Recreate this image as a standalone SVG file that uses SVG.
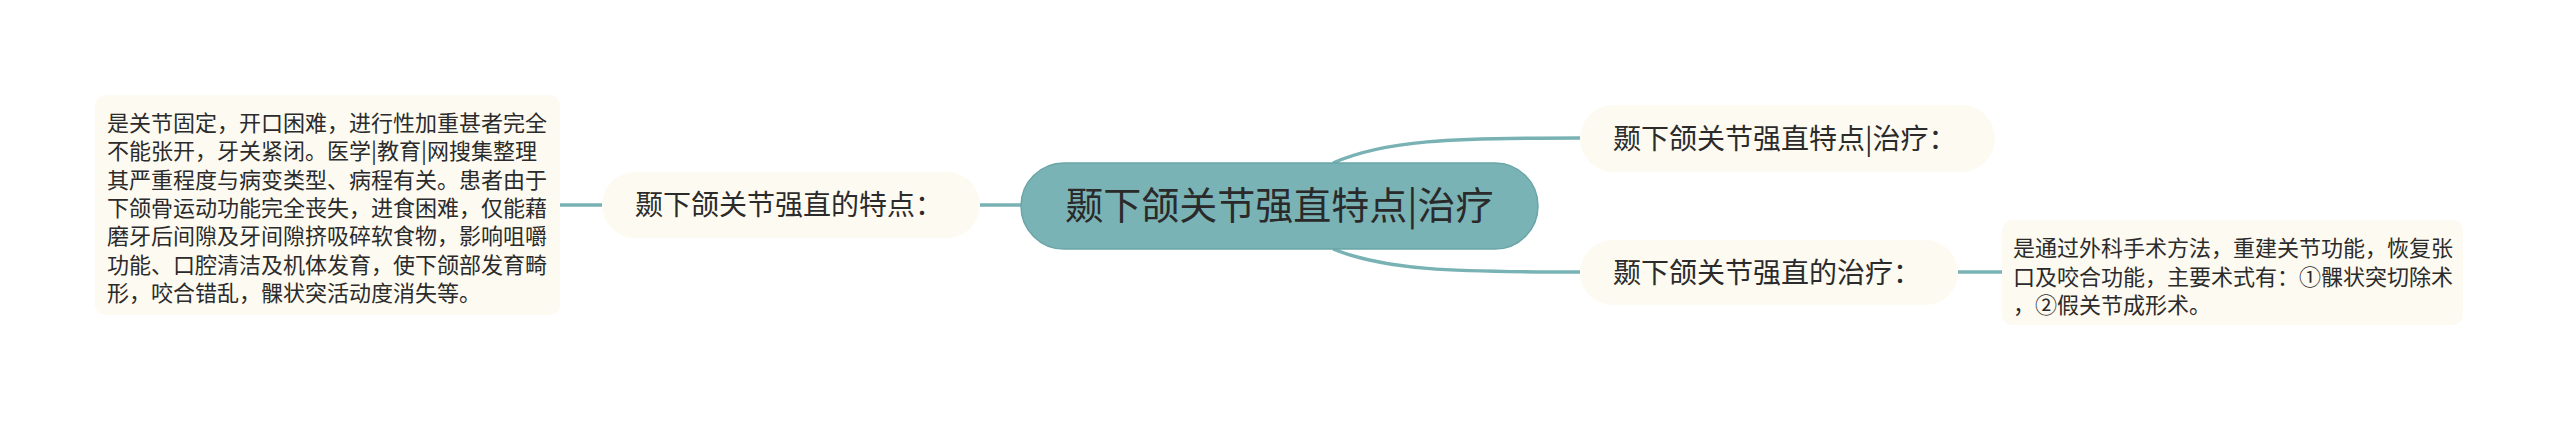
<svg xmlns="http://www.w3.org/2000/svg" width="2560" height="421" viewBox="0 0 2560 421">
<style>
.bg{fill:#ffffff}
.conn{fill:none;stroke:#79b2b4;stroke-width:3.5}
.pill{fill:#fdfaf1}
.box{fill:#fdfaf1}
.root{fill:#7ab3b5;stroke:#6aa5a7;stroke-width:1.5}
.t{font-family:"Microsoft YaHei","Noto Sans CJK SC","Noto Sans",sans-serif;fill:#2b2b2b}
.tr{font-size:38px;text-anchor:middle;fill:#2a2a2a}
.tb{font-size:28px}
.tx{font-size:22px}
</style>
<rect class="bg" x="0" y="0" width="2560" height="421"/>
<g id="connectors">
<line class="conn" x1="560" y1="205" x2="602" y2="205"/>
<line class="conn" x1="980" y1="205" x2="1022" y2="205"/>
<path class="conn" d="M1333,163 C1385,140 1450,138 1580,138"/>
<path class="conn" d="M1333,249 C1385,270 1450,272 1580,272"/>
<line class="conn" x1="1958" y1="272" x2="2002" y2="272"/>
</g>
<g id="root">
<rect class="root" x="1021" y="163" width="517" height="86" rx="43"/>
<text class="t tr" x="1279.5" y="219">颞下颌关节强直特点|治疗</text>
</g>
<g id="node-features">
<rect class="pill" x="602" y="172" width="378" height="66" rx="33"/>
<text class="t tb" x="635" y="215">颞下颌关节强直的特点：</text>
</g>
<g id="node-features-detail">
<rect class="box" x="95" y="95" width="465" height="220" rx="10"/>
<text class="t tx" x="107">
<tspan x="107" y="131">是关节固定，开口困难，进行性加重甚者完全</tspan>
<tspan x="107" y="159.3">不能张开，牙关紧闭。医学|教育|网搜集整理</tspan>
<tspan x="107" y="187.6">其严重程度与病变类型、病程有关。患者由于</tspan>
<tspan x="107" y="215.9">下颌骨运动功能完全丧失，进食困难，仅能藉</tspan>
<tspan x="107" y="244.2">磨牙后间隙及牙间隙挤吸碎软食物，影响咀嚼</tspan>
<tspan x="107" y="272.5">功能、口腔清洁及机体发育，使下颌部发育畸</tspan>
<tspan x="107" y="300.8">形，咬合错乱，髁状突活动度消失等。</tspan>
</text>
</g>
<g id="node-title">
<rect class="pill" x="1580" y="105" width="415" height="67" rx="33.5"/>
<text class="t tb" x="1613" y="149">颞下颌关节强直特点|治疗：</text>
</g>
<g id="node-treatment">
<rect class="pill" x="1580" y="240" width="378" height="65" rx="32.5"/>
<text class="t tb" x="1613" y="283">颞下颌关节强直的治疗：</text>
</g>
<g id="node-treatment-detail">
<rect class="box" x="2002" y="220" width="461" height="105" rx="10"/>
<text class="t tx">
<tspan x="2013" y="256">是通过外科手术方法，重建关节功能，恢复张</tspan>
<tspan x="2013" y="284.5">口及咬合功能，主要术式有：①髁状突切除术</tspan>
<tspan x="2013" y="313">，②假关节成形术。</tspan>
</text>
</g>
</svg>
